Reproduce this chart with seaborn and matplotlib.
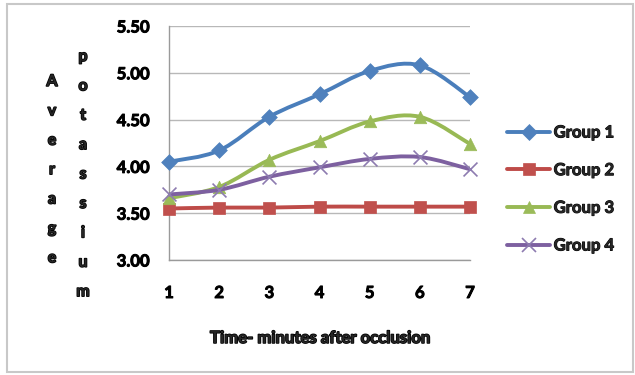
import numpy as np
import pandas as pd
import matplotlib
matplotlib.use("Agg")
import matplotlib.pyplot as plt
import matplotlib.patheffects as pe
from matplotlib.path import Path
from matplotlib.patches import PathPatch, Rectangle
from matplotlib.lines import Line2D
import seaborn as sns

sns.set_style("white")
plt.rcParams['font.family'] = ['Lato', 'DejaVu Sans']

# data
minutes = [1, 2, 3, 4, 5, 6, 7]
group1 = [4.05, 4.17, 4.53, 4.77, 5.02, 5.08, 4.74]
group2 = [3.55, 3.56, 3.56, 3.57, 3.57, 3.57, 3.57]
group3 = [3.66, 3.78, 4.07, 4.27, 4.48, 4.53, 4.24]
group4 = [3.70, 3.75, 3.89, 3.99, 4.08, 4.10, 3.97]
groups = ['Group 1', 'Group 2', 'Group 3', 'Group 4']
yticks = [3.00, 3.50, 4.00, 4.50, 5.00, 5.50]

line_colors = ['#4a7ebb', '#be4b48', '#98b954', '#7d60a0']
marker_colors = ['#4f81bd', '#c0504d', '#9bbb59', '#8d7bb0']
markers = ['D', 's', '^', 'x']
msizes = [8, 9, 9, 10]

df = pd.DataFrame({
    'minute': minutes * 4,
    'value': group1 + group2 + group3 + group4,
    'group': np.repeat(groups, len(minutes)),
})

W, H = 635, 375
fig = plt.figure(figsize=(W / 100, H / 100), dpi=100)
ax = fig.add_axes([169 / W, 1 - 260 / H, (470 - 169) / W, (260 - 26) / H])

# heavy text like the Excel original
heavy = [pe.withStroke(linewidth=1.1, foreground='black')]

def smooth_path(xs, ys):
    # Excel-style smoothed line: cubic Bezier through each point
    pts = np.column_stack([xs, ys]).astype(float)
    n = len(pts)
    verts = [pts[0]]
    codes = [Path.MOVETO]
    for i in range(n - 1):
        p0 = pts[i - 1] if i > 0 else pts[i]
        p1 = pts[i]
        p2 = pts[i + 1]
        p3 = pts[i + 2] if i + 2 < n else pts[i + 1]
        c1 = p1 + (p2 - p0) / 6
        c2 = p2 - (p3 - p1) / 6
        verts += [c1, c2, p2]
        codes += [Path.CURVE4] * 3
    return Path(verts, codes)

for gi, g in enumerate(groups):
    sub = df[df['group'] == g]
    patch = PathPatch(smooth_path(sub['minute'], sub['value']), facecolor='none',
                      edgecolor=line_colors[gi], lw=2.8, zorder=3 + gi * 2,
                      capstyle='round', joinstyle='round')
    ax.add_patch(patch)
    sns.scatterplot(data=sub, x='minute', y='value', marker=markers[gi],
                    color=marker_colors[gi], s=msizes[gi] ** 2,
                    edgecolor=marker_colors[gi] if markers[gi] != 'x' else None,
                    linewidth=1.2 if markers[gi] == 'x' else 0.5,
                    zorder=4 + gi * 2, ax=ax, legend=False, clip_on=False)

ax.set_xlim(1, 7)
ax.set_ylim(3.0, 5.5)
ax.set_xticks(minutes)
ax.set_yticks(yticks)
ax.set_yticklabels([f'{v:.2f}' for v in yticks])
ax.grid(axis='y', color='#b8b8b8', lw=1.0)
ax.grid(axis='x', visible=False)
for s in ['top', 'right']:
    ax.spines[s].set_visible(False)
for s in ['left', 'bottom']:
    ax.spines[s].set_visible(True)
    ax.spines[s].set_color('#9a9a9a')
    ax.spines[s].set_linewidth(1.0)
ax.tick_params(axis='both', which='major', direction='out', length=4,
               color='#9a9a9a', width=1.0, labelsize=12, colors='#9a9a9a',
               labelcolor='black')
ax.tick_params(axis='y', pad=10)
ax.tick_params(axis='x', pad=14)
for lab in ax.get_xticklabels() + ax.get_yticklabels():
    lab.set_fontweight('bold')
    lab.set_path_effects([pe.withStroke(linewidth=0.7, foreground='black')])
ax.set_ylabel('')
ax.set_xlabel('Time- minutes after occlusion', fontsize=12, fontweight='bold',
              path_effects=heavy)
ax.xaxis.set_label_coords(0.5, (260 - 338) / 234)
ax.xaxis.label.set_va('center')

# stacked vertical y-axis title, one letter per line
for word, xpix, ystart in [('Average', 52, 82), ('potassium', 83, 57)]:
    for k, ch in enumerate(word):
        fig.text(xpix / W, 1 - (ystart + k * 29.4) / H, ch, ha='center',
                 va='center', fontsize=11.5, fontweight='bold',
                 path_effects=heavy)

handles = [Line2D([0], [0], color=line_colors[i], lw=2.8, marker=markers[i],
                  markersize=msizes[i], markerfacecolor=marker_colors[i],
                  markeredgecolor=marker_colors[i],
                  markeredgewidth=1.2 if markers[i] == 'x' else 0.5)
           for i in range(4)]
leg = fig.legend(handles, groups, loc='center left',
                 bbox_to_anchor=(507 / W, 1 - 189 / H), frameon=False,
                 prop={'size': 12, 'weight': 'bold'}, handlelength=2.6,
                 handletextpad=0.2, labelspacing=1.3, borderpad=0,
                 borderaxespad=0)
for t in leg.get_texts():
    t.set_path_effects([pe.withStroke(linewidth=0.7, foreground='black')])

fig.add_artist(Rectangle((7 / W, 1 - 372 / H), (633 - 7) / W, (372 - 4) / H,
                         transform=fig.transFigure, fill=False,
                         edgecolor='#c8c8c8', lw=1.5))

fig.savefig('out.png', dpi=100, facecolor='white')
